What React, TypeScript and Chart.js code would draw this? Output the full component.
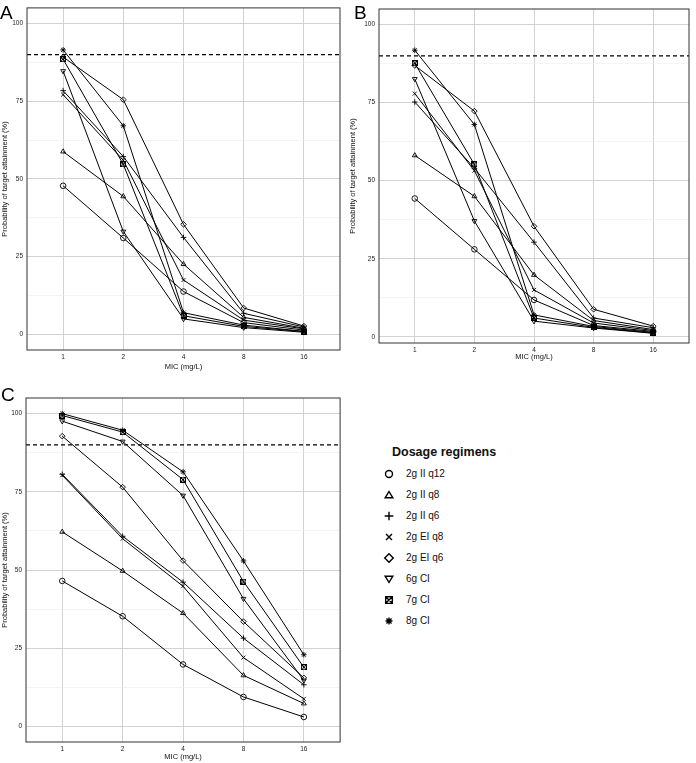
import React, { useEffect, useRef } from 'react';
import { Chart, registerables } from 'chart.js';

Chart.register(...registerables);

const MIC_LABELS = ['1', '2', '4', '8', '16'];
const REGIMENS = ['2g II q12', '2g II q8', '2g II q6', '2g EI q8', '2g EI q6', '6g CI', '7g CI', '8g CI'];
const Y_MAJOR = [0, 25, 50, 75, 100];
const Y_MINOR = [12.5, 37.5, 62.5, 87.5];
const TARGET_PTA = 90;

// Panel A
const A_II_Q12 = [47.8, 31.0, 13.8, 3.8, 1.4];
const A_II_Q8 = [58.8, 44.4, 22.6, 5.5, 2.0];
const A_II_Q6 = [78.4, 57.2, 31.2, 6.8, 2.4];
const A_EI_Q8 = [77.1, 56.0, 17.5, 4.6, 1.8];
const A_EI_Q6 = [89.2, 75.5, 35.4, 8.5, 2.7];
const A_CI_6G = [84.7, 33.1, 5.0, 2.2, 0.7];
const A_CI_7G = [88.5, 54.7, 6.0, 2.6, 0.9];
const A_CI_8G = [91.5, 67.1, 7.0, 3.0, 1.0];

// Panel B
const B_II_Q12 = [44.3, 28.0, 11.8, 3.6, 1.7];
const B_II_Q8 = [58.1, 45.0, 19.8, 5.2, 2.3];
const B_II_Q6 = [75.2, 54.0, 30.3, 6.0, 2.9];
const B_EI_Q8 = [77.9, 53.2, 15.0, 4.4, 2.0];
const B_EI_Q6 = [86.9, 72.3, 35.4, 8.8, 3.4];
const B_CI_6G = [82.6, 37.1, 5.0, 2.8, 1.1];
const B_CI_7G = [87.6, 55.2, 6.0, 3.0, 1.2];
const B_CI_8G = [91.8, 68.0, 7.0, 3.3, 1.4];

// Panel C
const C_II_Q12 = [46.5, 35.2, 19.8, 9.4, 3.0];
const C_II_Q8 = [62.2, 49.7, 36.2, 16.3, 7.3];
const C_II_Q6 = [80.6, 60.8, 46.1, 28.2, 13.3];
const C_EI_Q8 = [80.3, 60.0, 44.8, 22.0, 8.8];
const C_EI_Q6 = [92.8, 76.5, 53.0, 33.5, 15.5];
const C_CI_6G = [97.6, 91.1, 73.8, 40.8, 14.7];
const C_CI_7G = [99.4, 94.1, 78.9, 46.3, 18.9];
const C_CI_8G = [100, 94.7, 81.4, 52.9, 22.9];

const SERIES_A = [A_II_Q12, A_II_Q8, A_II_Q6, A_EI_Q8, A_EI_Q6, A_CI_6G, A_CI_7G, A_CI_8G];
const SERIES_B = [B_II_Q12, B_II_Q8, B_II_Q6, B_EI_Q8, B_EI_Q6, B_CI_6G, B_CI_7G, B_CI_8G];
const SERIES_C = [C_II_Q12, C_II_Q8, C_II_Q6, C_EI_Q8, C_EI_Q6, C_CI_6G, C_CI_7G, C_CI_8G];

const FONT = "'Liberation Sans', Arial, Helvetica, sans-serif";
const MARKERS = ['circle', 'triangle', 'cross', 'crossRot', 'rectRot', 'triangle', 'squareCross', 'star'];
const ROTATIONS = [0, 0, 0, 0, 0, 180, 0, 0];

function squareCrossImage(size: number) {
  const c = document.createElement('canvas');
  c.width = size;
  c.height = size;
  const ctx = c.getContext('2d')!;
  ctx.strokeStyle = '#000';
  ctx.lineWidth = 1;
  ctx.strokeRect(0.5, 0.5, size - 1, size - 1);
  ctx.beginPath();
  ctx.moveTo(1, 1);
  ctx.lineTo(size - 1, size - 1);
  ctx.moveTo(size - 1, 1);
  ctx.lineTo(1, size - 1);
  ctx.stroke();
  return c;
}

function drawLegendIcon(ctx: CanvasRenderingContext2D, kind: string, cx: number, cy: number, r: number) {
  ctx.save();
  ctx.strokeStyle = '#000';
  ctx.lineWidth = 1.4;
  ctx.beginPath();
  if (kind === 'circle') {
    ctx.arc(cx, cy, r, 0, Math.PI * 2);
  } else if (kind === 'triangle') {
    ctx.moveTo(cx, cy - r);
    ctx.lineTo(cx + r * 1.1, cy + r * 0.8);
    ctx.lineTo(cx - r * 1.1, cy + r * 0.8);
    ctx.closePath();
  } else if (kind === 'down') {
    ctx.moveTo(cx, cy + r);
    ctx.lineTo(cx + r * 1.1, cy - r * 0.8);
    ctx.lineTo(cx - r * 1.1, cy - r * 0.8);
    ctx.closePath();
  } else if (kind === 'cross') {
    ctx.moveTo(cx - r - 0.8, cy);
    ctx.lineTo(cx + r + 0.8, cy);
    ctx.moveTo(cx, cy - r - 0.8);
    ctx.lineTo(cx, cy + r + 0.8);
  } else if (kind === 'crossRot') {
    const d = r * 0.85;
    ctx.moveTo(cx - d, cy - d);
    ctx.lineTo(cx + d, cy + d);
    ctx.moveTo(cx + d, cy - d);
    ctx.lineTo(cx - d, cy + d);
  } else if (kind === 'rectRot') {
    ctx.moveTo(cx, cy - r - 0.8);
    ctx.lineTo(cx + r + 0.8, cy);
    ctx.lineTo(cx, cy + r + 0.8);
    ctx.lineTo(cx - r - 0.8, cy);
    ctx.closePath();
  } else if (kind === 'squareCross') {
    const d = r * 0.95;
    ctx.rect(cx - d, cy - d, 2 * d, 2 * d);
    ctx.moveTo(cx - d, cy - d);
    ctx.lineTo(cx + d, cy + d);
    ctx.moveTo(cx + d, cy - d);
    ctx.lineTo(cx - d, cy + d);
  } else if (kind === 'star') {
    ctx.moveTo(cx - r, cy);
    ctx.lineTo(cx + r, cy);
    ctx.moveTo(cx, cy - r);
    ctx.lineTo(cx, cy + r);
    const d = r * 0.72;
    ctx.moveTo(cx - d, cy - d);
    ctx.lineTo(cx + d, cy + d);
    ctx.moveTo(cx + d, cy - d);
    ctx.lineTo(cx - d, cy + d);
  }
  ctx.stroke();
  ctx.restore();
}

const framePlugin = {
  id: 'frame',
  afterDraw(chart: any) {
    const { ctx, chartArea: a } = chart;
    ctx.save();
    ctx.strokeStyle = '#333333';
    ctx.lineWidth = 1;
    ctx.strokeRect(a.left, a.top, a.right - a.left, a.bottom - a.top);
    ctx.restore();
  },
};

type PanelProps = {
  series: number[][];
  left: number;
  top: number;
  width: number;
  height: number;
  yAxisW: number;
  xAxisH: number;
  padTop: number;
  padRight: number;
  xTitlePad: number;
  yMin: number;
};

function Panel(p: PanelProps) {
  const ref = useRef<HTMLCanvasElement | null>(null);
  useEffect(() => {
    if (!ref.current) return;
    const sq = squareCrossImage(6);
    const datasets: any[] = p.series.map((vals, i) => ({
      type: 'line',
      label: REGIMENS[i],
      data: vals.map((v, j) => ({ x: j, y: v })),
      borderColor: '#000',
      borderWidth: 1,
      tension: 0,
      fill: false,
      pointStyle: MARKERS[i] === 'squareCross' ? sq : MARKERS[i],
      pointRotation: ROTATIONS[i],
      pointRadius: 2.8,
      pointBorderColor: '#000',
      pointBackgroundColor: 'rgba(0,0,0,0)',
      pointBorderWidth: 0.9,
    }));
    datasets.push({
      type: 'line',
      label: 'target',
      data: [{ x: -0.6, y: TARGET_PTA }, { x: 4.6, y: TARGET_PTA }],
      borderColor: '#000',
      borderWidth: 1.2,
      borderDash: [4, 3],
      pointRadius: 0,
      fill: false,
    });
    const chart = new Chart(ref.current, {
      type: 'line',
      data: { datasets },
      plugins: [framePlugin],
      options: {
        animation: false,
        responsive: false,
        maintainAspectRatio: false,
        layout: { padding: { left: 0, top: p.padTop, right: p.padRight, bottom: 0 } },
        plugins: { legend: { display: false }, tooltip: { enabled: false } },
        scales: {
          x: {
            type: 'linear',
            min: -0.6,
            max: 4.6,
            afterBuildTicks: (s: any) => {
              s.ticks = MIC_LABELS.map((_, i) => ({ value: i }));
            },
            afterFit: (s: any) => {
              s.height = p.xAxisH;
            },
            ticks: {
              autoSkip: false,
              maxRotation: 0,
              padding: 3,
              color: '#222',
              font: { family: FONT, size: 6.5 },
              callback: (v: any) => MIC_LABELS[Math.round(Number(v))] ?? '',
            },
            grid: { color: '#d2d2d2', lineWidth: 1, drawTicks: false },
            border: { display: false },
            title: {
              display: true,
              text: 'MIC (mg/L)',
              color: '#111',
              font: { family: FONT, size: 7.5 },
              padding: { top: 0, bottom: p.xTitlePad },
            },
          },
          y: {
            type: 'linear',
            min: p.yMin,
            max: 105,
            afterBuildTicks: (s: any) => {
              s.ticks = [...Y_MAJOR, ...Y_MINOR].sort((a, b) => a - b).map((v) => ({ value: v }));
            },
            afterFit: (s: any) => {
              s.width = p.yAxisW;
            },
            ticks: {
              autoSkip: false,
              padding: 4,
              color: '#222',
              font: { family: FONT, size: 6.5 },
              callback: (v: any) => (Y_MAJOR.includes(Number(v)) ? String(v) : ''),
            },
            grid: {
              color: (c: any) => (Y_MAJOR.includes(c.tick?.value) ? '#d2d2d2' : '#ececec'),
              lineWidth: (c: any) => (Y_MAJOR.includes(c.tick?.value) ? 1 : 0.6),
              drawTicks: false,
            },
            border: { display: false },
            title: {
              display: true,
              text: 'Probability of target attainment (%)',
              color: '#111',
              font: { family: FONT, size: 7.5 },
              padding: { top: 0.5, bottom: 0 },
            },
          },
        },
      } as any,
    });
    return () => chart.destroy();
  }, []);
  return (
    <canvas
      ref={ref}
      width={p.width}
      height={p.height}
      style={{ position: 'absolute', left: p.left, top: p.top, width: p.width, height: p.height }}
    />
  );
}

function LegendIcon({ kind }: { kind: string }) {
  const ref = useRef<HTMLCanvasElement | null>(null);
  useEffect(() => {
    const ctx = ref.current?.getContext('2d');
    if (!ctx) return;
    ctx.clearRect(0, 0, 14, 14);
    drawLegendIcon(ctx, kind, 7, 7, 3.5);
  }, [kind]);
  return <canvas ref={ref} width={14} height={14} style={{ position: 'absolute', left: -7, top: -7 }} />;
}

const LEGEND_KINDS = ['circle', 'triangle', 'cross', 'crossRot', 'rectRot', 'down', 'squareCross', 'star'];

export default function App() {
  const panelLabel = (t: string, left: number, top: number) => (
    <div
      style={{ position: 'absolute', left, top, fontFamily: FONT, fontSize: 19, lineHeight: '19px', color: '#000' }}
    >
      {t}
    </div>
  );
  return (
    <div style={{ position: 'fixed', left: 0, top: 0, width: 696, height: 763, background: '#fff', overflow: 'hidden' }}>
      <Panel series={SERIES_A} left={0} top={0} width={345} height={375} yAxisW={27} xAxisH={25} padTop={7} padRight={5} xTitlePad={3.5} yMin={-5} />
      <Panel series={SERIES_B} left={348} top={0} width={348} height={362} yAxisW={31} xAxisH={19} padTop={9} padRight={7} xTitlePad={1} yMin={-2} />
      <Panel series={SERIES_C} left={0} top={378} width={345} height={385} yAxisW={26} xAxisH={21} padTop={20} padRight={4} xTitlePad={1.8} yMin={-5} />
      {panelLabel('A', 0, 2.5)}
      {panelLabel('B', 354, 2.5)}
      {panelLabel('C', 1, 385)}
      <div style={{ position: 'absolute', left: 392, top: 445, fontFamily: FONT, fontSize: 12.5, fontWeight: 'bold', color: '#111', lineHeight: '14px', whiteSpace: 'nowrap' }}>
        Dosage regimens
      </div>
      {REGIMENS.map((r, i) => (
        <div key={r} style={{ position: 'absolute', left: 389, top: 474 + 21 * i, width: 0, height: 0 }}>
          <LegendIcon kind={LEGEND_KINDS[i]} />
          <div style={{ position: 'absolute', left: 17, top: -7, fontFamily: FONT, fontSize: 10, lineHeight: '14px', color: '#111', whiteSpace: 'nowrap' }}>
            {r}
          </div>
        </div>
      ))}
    </div>
  );
}
